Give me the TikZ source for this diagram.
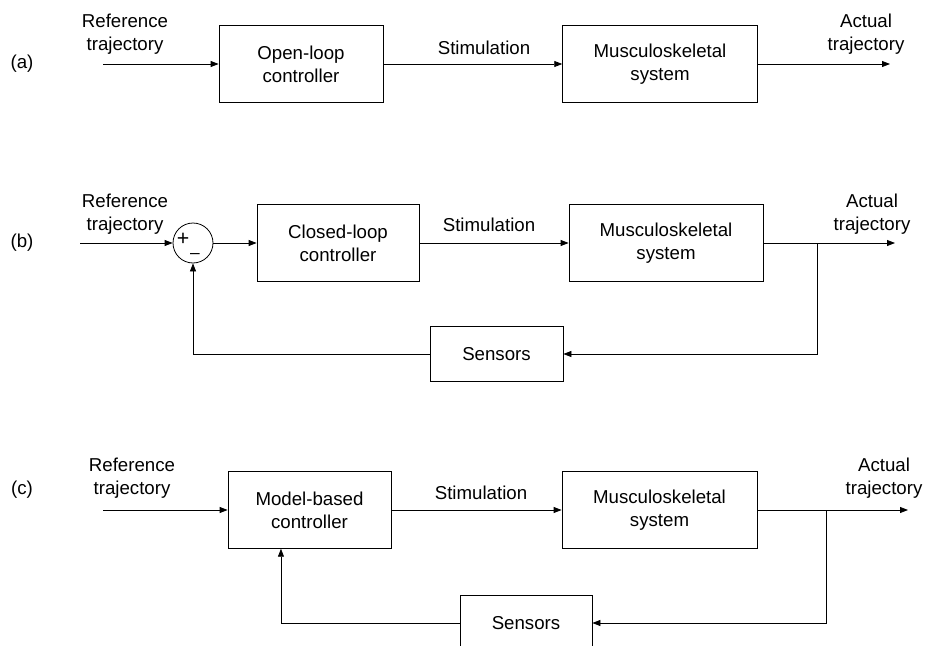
\documentclass[tikz,border=0pt]{standalone}
\usepackage{fontspec}
\setmainfont{Liberation Sans}
\usetikzlibrary{arrows.meta}
\tikzset{
  block/.style={draw, line width=0.6pt, minimum height=57.5pt, inner sep=0pt, align=center},
  sensbox/.style={draw, line width=0.6pt, minimum height=41pt, inner sep=0pt},
  sumnode/.style={draw, circle, line width=0.6pt, minimum size=30pt, inner sep=0pt},
  sig/.style={line width=0.6pt, -{Triangle[length=6pt,width=4.5pt]}},
  txt/.style={align=center, inner sep=0pt}
}
\begin{document}
\begin{tikzpicture}[x=0.75pt, y=-0.75pt, font=\fontsize{14}{17}\selectfont]
        \clip (0,0) rectangle (926,646);

        % (a) open-loop
        \node[txt] (lbla) at (22,64) {(a)};
        \node[txt] (refa) at (125,34) {Reference\\trajectory};
        \coordinate (ina) at (103,64);
        \node[block, minimum width=123pt] (ola) at (301,64) {Open-loop\\controller};
        \node[txt] (stima) at (484,48) {Stimulation};
        \node[block, minimum width=146pt] (msa) at (660,64) {Musculoskeletal\\system};
        \node[txt] (acta) at (866,34) {Actual\\trajectory};
        \coordinate (outa) at (890,64);
        \draw[sig] (ina) -- (ola);
        \draw[sig] (ola) -- (msa);
        \draw[sig] (msa) -- (outa);

        % (b) closed-loop with summing junction
        \node[txt] (lblb) at (22,243) {(b)};
        \node[txt] (refb) at (125,214) {Reference\\trajectory};
        \coordinate (inb) at (80,243);
        \node[sumnode] (sum) at (193,243) {};
        \node[txt, font=\fontsize{16}{16}\selectfont] (plus) at (183,239.5) {+};
        \node[txt, font=\fontsize{13}{13}\selectfont] (minus) at (195,256.5) {--};
        \node[block, minimum width=121.5pt] (clb) at (338,243) {Closed-loop\\controller};
        \node[txt] (stimb) at (489,225) {Stimulation};
        \node[block, minimum width=145.5pt] (msb) at (666,243) {Musculoskeletal\\system};
        \node[txt] (actb) at (872,214) {Actual\\trajectory};
        \coordinate (outb) at (895,243);
        \coordinate (brb) at (817,243);
        \node[sensbox, minimum width=99.75pt] (snb) at (496.5,354) {Sensors};
        \draw[sig] (inb) -- (sum);
        \draw[sig] (sum) -- (clb);
        \draw[sig] (clb) -- (msb);
        \draw[sig] (msb) -- (outb);
        \draw[sig] (brb) |- (snb);
        \draw[sig] (snb) -| (sum);

        % (c) model-based
        \node[txt] (lblc) at (22,490) {(c)};
        \node[txt] (refc) at (132,478) {Reference\\trajectory};
        \coordinate (inc) at (103,510);
        \node[block, minimum width=122.25pt] (mbc) at (309.5,510) {Model-based\\controller};
        \node[txt] (stimc) at (481,493) {Stimulation};
        \node[block, minimum width=146.25pt] (msc) at (659.5,510) {Musculoskeletal\\system};
        \node[txt] (actc) at (884,478) {Actual\\trajectory};
        \coordinate (outc) at (908,510);
        \coordinate (brc) at (826,510);
        \node[sensbox, minimum width=99pt] (snc) at (526,623) {Sensors};
        \draw[sig] (inc) -- (mbc);
        \draw[sig] (mbc) -- (msc);
        \draw[sig] (msc) -- (outc);
        \draw[sig] (brc) |- (snc);
        \draw[sig] (snc) -| ([xshift=-21.4pt]mbc.south);
    \end{tikzpicture}
\end{document}
